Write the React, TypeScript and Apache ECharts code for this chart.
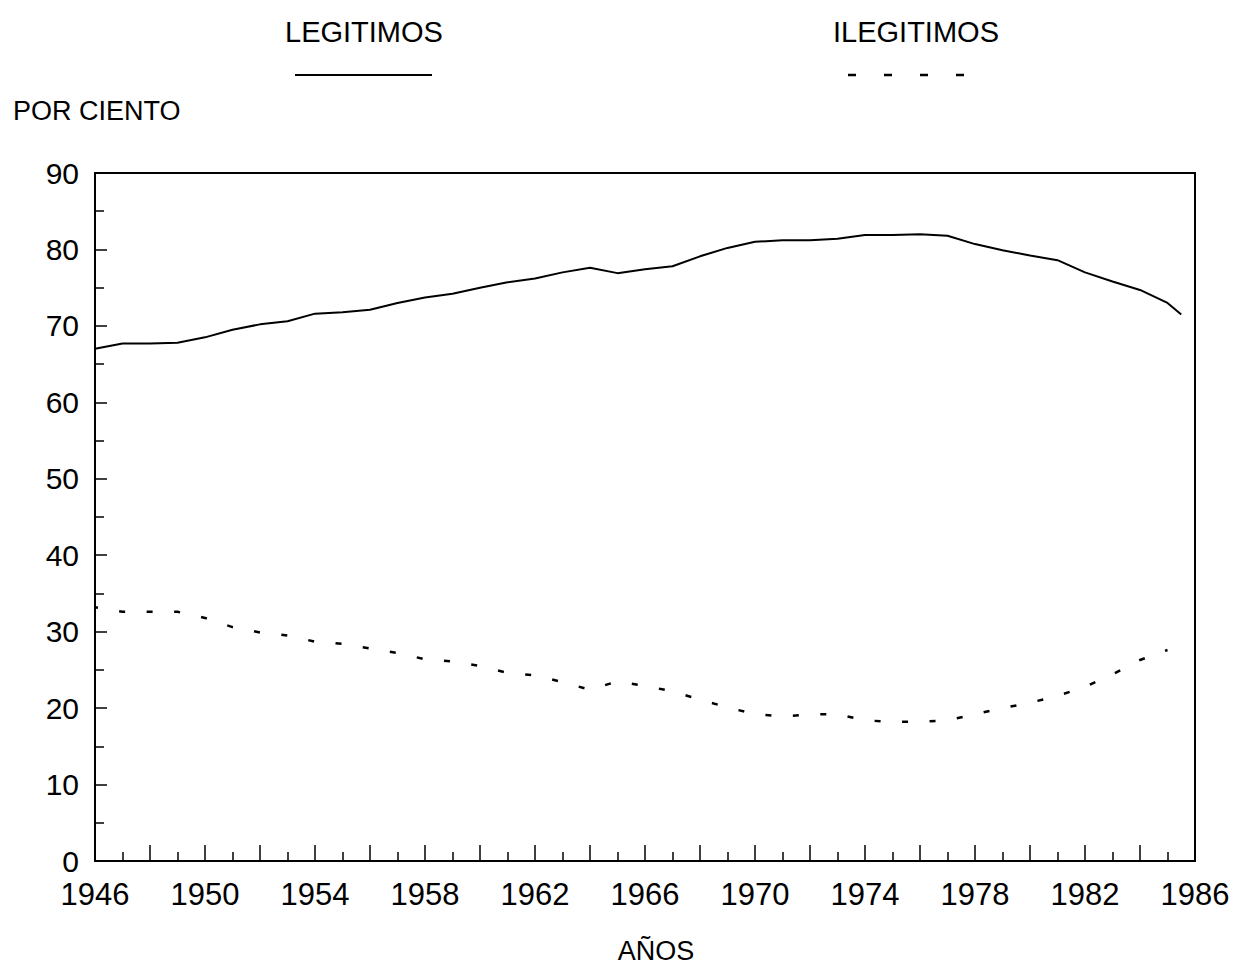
import React, { useEffect, useRef } from "react";
import * as echarts from "echarts";

const years = [
  1946, 1947, 1948, 1949, 1950, 1951, 1952, 1953, 1954, 1955,
  1956, 1957, 1958, 1959, 1960, 1961, 1962, 1963, 1964, 1965,
  1966, 1967, 1968, 1969, 1970, 1971, 1972, 1973, 1974, 1975,
  1976, 1977, 1978, 1979, 1980, 1981, 1982, 1983, 1984, 1985,
];

const legitimos = [
  67.0, 67.7, 67.7, 67.8, 68.5, 69.5, 70.2, 70.6, 71.6, 71.8,
  72.1, 73.0, 73.7, 74.2, 75.0, 75.7, 76.2, 77.0, 77.6, 76.9,
  77.4, 77.8, 79.1, 80.2, 81.0, 81.2, 81.2, 81.4, 81.9, 81.9,
  82.0, 81.8, 80.7, 79.9, 79.2, 78.6, 77.0, 75.8, 74.7, 73.0,
];
// the solid line runs on half a year past the last full year
const legitimosTail: [number, number] = [1985.5, 71.5];

const ilegitimos = [
  33.2, 32.6, 32.6, 32.6, 31.8, 30.6, 29.9, 29.5, 28.7, 28.4,
  27.8, 27.2, 26.4, 26.1, 25.5, 24.6, 24.3, 23.4, 22.4, 23.5,
  22.9, 22.2, 21.1, 20.1, 19.2, 18.9, 19.2, 19.2, 18.4, 18.2,
  18.2, 18.4, 19.2, 20.0, 20.7, 21.6, 22.8, 24.4, 26.3, 27.6,
];

const xMin = 1946;
const xMax = 1986;
const yMin = 0;
const yMax = 90;

const FONT = "'Liberation Sans', Arial, sans-serif";

export default function App() {
  const ref = useRef<HTMLDivElement>(null);

  useEffect(() => {
    if (!ref.current) return;
    const chart = echarts.init(ref.current, null, { renderer: "svg" });
    const legData = years.map((y, i) => [y, legitimos[i]]);
    legData.push(legitimosTail);
    const ilegData = years.map((y, i) => [y, ilegitimos[i]]);

    chart.setOption({
      animation: false,
      backgroundColor: "#ffffff",
      textStyle: { fontFamily: FONT, color: "#000" },
      title: {
        text: "POR CIENTO",
        left: 8,
        top: 92,
        textStyle: { fontFamily: FONT, fontSize: 27, fontWeight: "normal", color: "#000" },
      },
      grid: {
        left: 95,
        right: 46,
        top: 173,
        bottom: 109,
        show: true,
        borderColor: "#000",
        borderWidth: 2,
        backgroundColor: "transparent",
        containLabel: false,
        outerBoundsMode: "none",
      },
      xAxis: {
        type: "value",
        min: xMin,
        max: xMax,
        interval: 2,
        name: "AÑOS",
        nameLocation: "middle",
        nameGap: 76,
        nameTextStyle: { fontFamily: FONT, fontSize: 27, color: "#000", padding: [0, 0, 0, 22] },
        axisLine: { show: true, lineStyle: { color: "#000", width: 2 } },
        axisTick: { show: true, inside: true, length: 16, lineStyle: { color: "#000", width: 1.5 } },
        minorTick: { show: true, splitNumber: 2, length: 9, lineStyle: { color: "#000", width: 1.5 } },
        splitLine: { show: false },
        minorSplitLine: { show: false },
        axisLabel: {
          fontFamily: FONT,
          fontSize: 31,
          color: "#000",
          margin: 18,
          showMaxLabel: true,
          showMinLabel: true,
          formatter: (v: number) => ((v - xMin) % 4 === 0 ? String(v) : ""),
        },
      },
      yAxis: {
        type: "value",
        min: yMin,
        max: yMax,
        interval: 10,
        axisLine: { show: true, lineStyle: { color: "#000", width: 2 } },
        axisTick: { show: true, inside: true, length: 12, lineStyle: { color: "#000", width: 1.5 } },
        minorTick: { show: true, splitNumber: 2, length: 9, lineStyle: { color: "#000", width: 1.5 } },
        splitLine: { show: false },
        minorSplitLine: { show: false },
        axisLabel: {
          fontFamily: FONT,
          fontSize: 30,
          color: "#000",
          margin: 16,
        },
      },
      graphic: [
        {
          type: "text",
          left: 285,
          top: 17,
          style: { text: "LEGITIMOS", font: `29px ${FONT}`, fill: "#000" },
        },
        {
          type: "line",
          shape: { x1: 295, y1: 75, x2: 432, y2: 75 },
          style: { stroke: "#000", lineWidth: 2 },
        },
        {
          type: "text",
          left: 833,
          top: 17,
          style: { text: "ILEGITIMOS", font: `29px ${FONT}`, fill: "#000" },
        },
        {
          type: "line",
          shape: { x1: 848, y1: 75, x2: 966, y2: 75 },
          style: { stroke: "#000", lineWidth: 2.5, lineDash: [8, 28] },
        },
      ],
      series: [
        {
          name: "LEGITIMOS",
          type: "line",
          data: legData,
          showSymbol: false,
          symbol: "none",
          lineStyle: { color: "#000", width: 2 },
          silent: true,
        },
        {
          name: "ILEGITIMOS",
          type: "line",
          data: ilegData,
          showSymbol: false,
          symbol: "none",
          lineStyle: { color: "#000", width: 2.5, type: [6, 21.5], dashOffset: 3 },
          silent: true,
        },
      ],
    });
    return () => chart.dispose();
  }, []);

  return (
    <div
      ref={ref}
      style={{ position: "absolute", left: 0, top: 0, width: 1241, height: 970, background: "#fff" }}
    />
  );
}
